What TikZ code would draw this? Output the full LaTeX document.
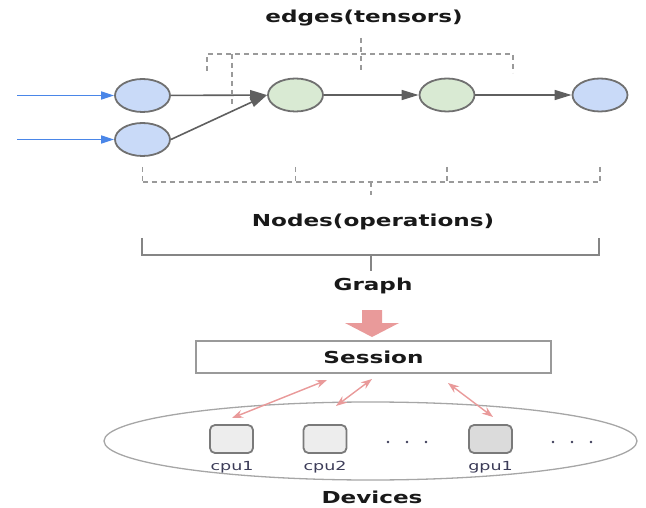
\documentclass[tikz,border=0pt]{standalone}
\usepackage{fontspec}
\setmainfont{DejaVu Sans}[FakeStretch=1.4]
\usetikzlibrary{shapes.geometric,arrows.meta}

\definecolor{opblue}{HTML}{C9DAF8}
\definecolor{opgreen}{HTML}{D9EAD3}
\definecolor{opline}{HTML}{707070}
\definecolor{edgegray}{HTML}{5F5F5F}
\definecolor{feedblue}{HTML}{4A86E8}
\definecolor{dashgray}{HTML}{9A9A9A}
\definecolor{framegray}{HTML}{858585}
\definecolor{linkred}{HTML}{E99A9A}
\definecolor{devline}{HTML}{7A7A7A}
\definecolor{devtext}{HTML}{3C3C58}

\tikzset{
    op/.style = {ellipse, draw=opline, line width=1.8pt, minimum width=55pt, minimum height=33pt, inner sep=0pt},
    title/.style = {font=\fontsize{16.5}{18}\selectfont\bfseries, text=black!90, inner sep=0pt},
    flow/.style = {draw=edgegray, line width=1.6pt, -{Triangle[length=17pt,width=10pt]}},
    feed/.style = {draw=feedblue, line width=1.5pt, -{Triangle[length=13pt,width=8pt]}},
    brace/.style = {draw=dashgray, line width=1.7pt, dash pattern=on 5pt off 4pt},
    frame/.style = {draw=framegray, line width=2.2pt},
    dev/.style = {rectangle, rounded corners=5pt, draw=devline, line width=1.8pt, minimum width=43pt, minimum height=28pt, inner sep=0pt},
    devlbl/.style = {font=\fontsize{12.5}{14}\selectfont, text=devtext, inner sep=0pt},
    link/.style = {draw=linkred, line width=1.4pt, {Stealth[length=11pt,width=8pt]}-{Stealth[length=11pt,width=8pt]}},
}

\begin{document}
\begin{tikzpicture}[x=1pt, y=-1pt]
    \useasboundingbox (0,0) rectangle (646,508);

    \node[title] (edges) at (364,18) {edges(tensors)};

    \node[op, fill=opblue] (in1) at (142.5,95.5) {};
    \node[op, fill=opblue] (in2) at (142.5,139.5) {};
    \node[op, fill=opgreen] (mid1) at (295.5,95) {};
    \node[op, fill=opgreen] (mid2) at (447,95) {};
    \node[op, fill=opblue] (out) at (600,95) {};

    \coordinate (src1) at (17,95.5);
    \coordinate (src2) at (17,139.5);
    \draw [feed] (src1)--(in1);
    \draw [feed] (src2)--(in2);

    \draw [flow] (in1)--(mid1);
    \draw [flow] (in2.east)--(mid1.west);
    \draw [flow] (mid1)--(mid2);
    \draw [flow] (mid2)--(out);

    % edges bracket
    \draw [brace] (207,71)--(207,54)--(513,54)--(513,73);
    \draw [brace] (232,54)--(232,105);
    \draw [brace] (361,38)--(361,73);

    % nodes bracket
    \draw [brace] (in2 |- 0,182)--(out |- 0,182);
    \foreach \n in {in2,mid1,mid2,out}
        \draw [brace] (\n |- 0,167)--(\n |- 0,182);
    \draw [brace] (371,182)--(371,195);

    \node[title] (nodes) at (373,222) {Nodes(operations)};

    \coordinate (gl) at (142,238);
    \coordinate (gr) at (599,238);
    \draw [frame] (gl)--(142,255)--(599,255)--(gr);
    \draw [frame] (371,255)--(371,271);

    \node[title] (graph) at (373,286) {Graph};

    \fill [linkred] (362,310)--(382,310)--(382,323)--(399,323)--(372,337)--(345,323)--(362,323)--cycle;

    \node[title, draw=dashgray, line width=1.5pt, minimum width=355pt, minimum height=32pt] (session) at (373.5,357) {Session};

    \node[ellipse, draw=black!35, line width=1.3pt, minimum width=533pt, minimum height=78pt, inner sep=0pt] (pool) at (370.5,441) {};

    \node[dev, fill=black!7] (cpu1) at (231.5,439) {};
    \node[dev, fill=black!7] (cpu2) at (325,439) {};
    \node[dev, fill=black!14] (gpu1) at (490.5,439) {};
    \node[devlbl] (cpu1l) at (232,467) {cpu1};
    \node[devlbl] (cpu2l) at (325,467) {cpu2};
    \node[devlbl] (gpu1l) at (490.5,467) {gpu1};

    \foreach \x in {388,407,426,553,572,591}
        \fill [devtext] (\x,442) circle (1.3);

    \coordinate (s1) at (327,380);
    \coordinate (d1) at (232,418);
    \coordinate (s2) at (372,379);
    \coordinate (d2) at (336,406);
    \coordinate (s3) at (448,383);
    \coordinate (d3) at (493,417);
    \draw [link] (s1)--(d1);
    \draw [link] (s2)--(d2);
    \draw [link] (s3)--(d3);

    \node[title] (devices) at (372,497) {Devices};

\end{tikzpicture}
\end{document}
